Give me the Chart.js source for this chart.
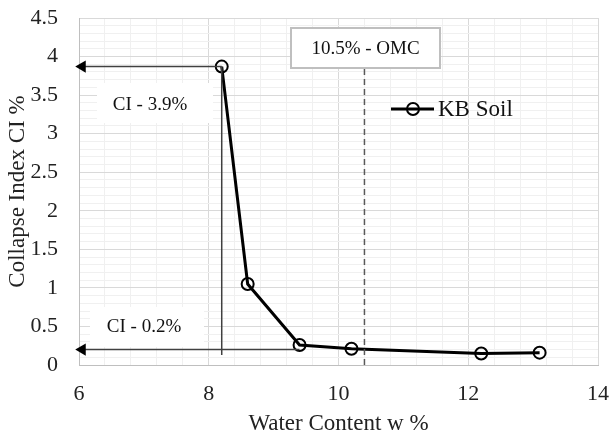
<!DOCTYPE html>
<html>
<head>
<meta charset="utf-8">
<script src="https://cdn.jsdelivr.net/npm/chart.js@4/dist/chart.umd.min.js"></script>
<style>
  html, body { margin: 0; padding: 0; background: #fff; }
  canvas { display: block; }
</style>
</head>
<body>
<canvas id="chart" width="610" height="439"></canvas>
<script>
// measured series
const waterContent = [8.2, 8.6, 9.4, 10.2, 12.2, 13.1];
const collapseIndex = [3.87, 1.05, 0.26, 0.21, 0.15, 0.16];

// guide lines
const ciMaxGuideX = [8.2, 6.05];
const ciMaxGuideY = [3.87, 3.87];
const ciMinGuideX = [9.4, 6.05];
const ciMinGuideY = [0.2, 0.2];
const dropLineX = [8.2, 8.2];
const dropLineY = [3.87, 0.13];
const omcLineX = [10.4, 10.4];
const omcLineY = [0, 3.85];

const labelTexts = ['10.5% - OMC', 'CI - 3.9%', 'CI - 0.2%'];
const seriesName = 'KB Soil';

const toPoints = (xs, ys) => xs.map((x, i) => ({ x: x, y: ys[i] }));

const FONT = "'Liberation Serif', 'Times New Roman', serif";
const GUIDE = '#404040';

// text boxes + legend, drawn on canvas
const annotations = {
  id: 'annotations',
  beforeDatasetsDraw(chart) {
    const c = chart.ctx;
    c.save();
    c.fillStyle = '#fff';
    c.fillRect(97, 83, 116, 40);
    c.fillRect(90, 307, 114, 40);
    c.restore();
  },
  afterDatasetsDraw(chart) {
    const c = chart.ctx;
    c.save();
    // OMC box
    c.fillStyle = '#fff';
    c.fillRect(291, 28, 149, 40);
    c.strokeStyle = '#bfbfbf';
    c.lineWidth = 2;
    c.strokeRect(291, 28, 149, 40);

    c.fillStyle = '#111';
    c.font = '19px ' + FONT;
    c.textAlign = 'center';
    c.textBaseline = 'middle';
    c.fillText(labelTexts[0], 365.5, 49);
    c.fillText(labelTexts[1], 150, 105);
    c.fillText(labelTexts[2], 144, 327);

    // legend
    c.strokeStyle = '#000';
    c.lineWidth = 3;
    c.beginPath();
    c.moveTo(391, 109);
    c.lineTo(434, 109);
    c.stroke();
    c.lineWidth = 2;
    c.beginPath();
    c.arc(413, 109, 6, 0, Math.PI * 2);
    c.stroke();
    c.font = '23px ' + FONT;
    c.textAlign = 'left';
    c.fillText(seriesName, 438, 110);
    c.restore();
  }
};

const guideLine = (data, extra) => Object.assign({
  data: data,
  showLine: true,
  borderColor: GUIDE,
  borderWidth: 1.5,
  pointRadius: 0,
  pointHoverRadius: 0,
  clip: false
}, extra || {});

new Chart(document.getElementById('chart'), {
  type: 'scatter',
  data: {
    datasets: [
      guideLine(toPoints(omcLineX, omcLineY), { borderColor: '#595959', borderDash: [6, 4] }),
      guideLine(toPoints(dropLineX, dropLineY)),
      guideLine(toPoints(ciMaxGuideX, ciMaxGuideY), {
        pointRadius: [0, 7], pointStyle: 'triangle', rotation: -90,
        pointBackgroundColor: '#000', pointBorderColor: '#000', pointBorderWidth: 0
      }),
      guideLine(toPoints(ciMinGuideX, ciMinGuideY), {
        pointRadius: [0, 7], pointStyle: 'triangle', rotation: -90,
        pointBackgroundColor: '#000', pointBorderColor: '#000', pointBorderWidth: 0
      }),
      {
        label: seriesName,
        data: toPoints(waterContent, collapseIndex),
        showLine: true,
        borderColor: '#000',
        borderWidth: 3,
        tension: 0,
        pointRadius: 6,
        pointBorderWidth: 2,
        pointBorderColor: '#000',
        pointBackgroundColor: 'transparent',
        clip: false
      }
    ]
  },
  options: {
    responsive: false,
    animation: false,
    events: [],
    layout: { padding: { top: 18, right: 0, left: 0, bottom: 0 } },
    plugins: {
      legend: { display: false },
      tooltip: { enabled: false }
    },
    scales: {
      x: {
        type: 'linear',
        min: 6,
        max: 14,
        afterFit: s => { s.height = 74; s.paddingLeft = 0; s.paddingRight = 12; },
        ticks: {
          stepSize: 0.4,
          autoSkip: false,
          maxRotation: 0,
          padding: 16,
          color: '#222',
          font: { family: FONT, size: 22 },
          callback: v => (Math.round(v * 10) % 20 === 0 ? String(Math.round(v)) : '')
        },
        grid: {
          drawTicks: false,
          color: ctx => (Math.round(ctx.tick.value * 10) % 20 === 0 ? '#d9d9d9' : '#f0f0f0')
        },
        border: { color: '#bfbfbf', width: 1 },
        title: {
          display: true,
          text: 'Water Content w %',
          color: '#222',
          font: { family: FONT, size: 23 },
          padding: { top: 0, bottom: 1 }
        }
      },
      y: {
        min: 0,
        max: 4.5,
        afterFit: s => { s.width = 79; s.paddingTop = 0; s.paddingBottom = 0; },
        ticks: {
          stepSize: 0.1,
          autoSkip: false,
          padding: 21,
          color: '#222',
          font: { family: FONT, size: 22 },
          callback: v => {
            const t = Math.round(v * 10);
            return t % 5 === 0 ? String(t / 10) : '';
          }
        },
        grid: {
          drawTicks: false,
          color: ctx => (Math.round(ctx.tick.value * 10) % 5 === 0 ? '#d9d9d9' : '#f0f0f0')
        },
        border: { color: '#bfbfbf', width: 1 },
        title: {
          display: true,
          text: 'Collapse Index CI %',
          color: '#222',
          font: { family: FONT, size: 23 },
          padding: { top: 4, bottom: 0 }
        }
      }
    }
  },
  plugins: [annotations]
});
</script>
</body>
</html>
